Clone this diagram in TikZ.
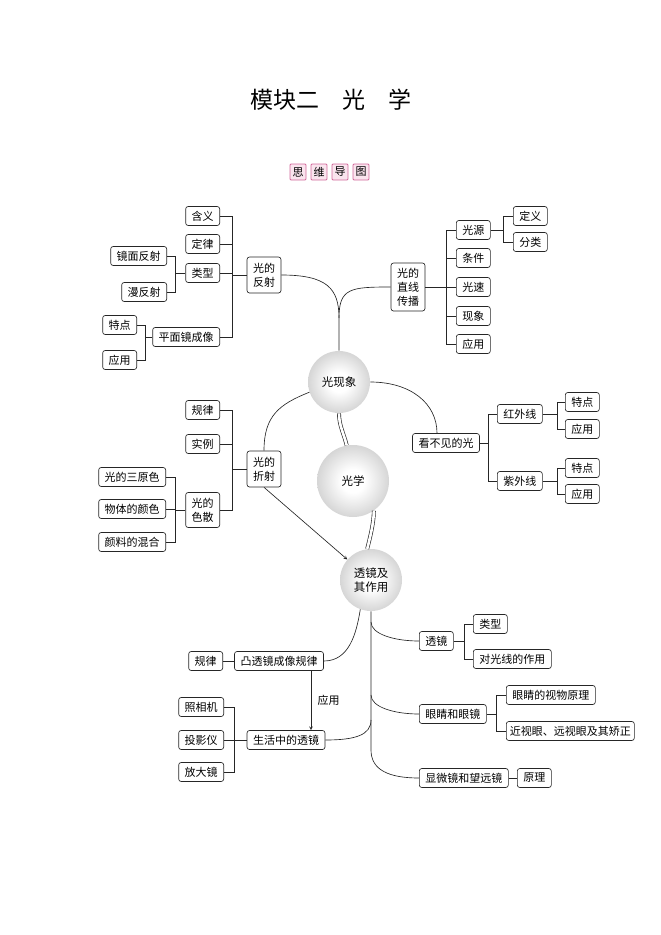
\documentclass[tikz,border=0pt]{standalone}
\usepackage{fontspec}
\setmainfont{Noto Sans CJK SC}
\usetikzlibrary{calc}

\pgfdeclareradialshading{sphere}{\pgfpoint{0bp}{0bp}}{color(0bp)=(white); color(8bp)=(white); color(50bp)=(black!40)}
\definecolor{tagline}{RGB}{210,105,155}
\definecolor{tagfill}{RGB}{250,228,238}

\tikzset{
  box/.style={draw, text=black, fill=white, rounded corners=2.5pt, inner xsep=6pt, inner ysep=2pt,
    minimum height=19pt, align=center, font=\fontsize{11}{14}\selectfont},
  ball/.style={circle, shading=sphere, text=black, align=center, inner sep=0pt,
    font=\fontsize{11.5}{14}\selectfont},
  tag/.style={draw=tagline, fill=tagfill, text=black, line width=.8pt, rounded corners=1pt,
    minimum size=16pt, inner sep=0pt, font=\fontsize{11}{12}\selectfont},
}

\begin{document}
\begin{tikzpicture}[x=1pt, y=-1pt, >=stealth, line width=.65pt, color=black!85]
\useasboundingbox (0,0) rectangle (661,935);

\node[text=black] (title) at (331,100) {\fontsize{23}{23}\selectfont 模块二\quad 光\quad 学};
\foreach \t [count=\i] in {思,维,导,图}
    \node[tag] (tag\i) at (277+21*\i,172) {\t};

% bracket columns
\coordinate (b1) at (232,0);
\coordinate (b2) at (175,0);
\coordinate (b3) at (145,0);
\coordinate (b4) at (446,0);
\coordinate (b5) at (503,0);
\coordinate (b6) at (488,0);
\coordinate (b7) at (557,0);
\coordinate (b8) at (234,0);
\coordinate (b9) at (464,0);
\coordinate (b10) at (496,0);

% centre
\node[ball, minimum size=62pt] (gxx) at (339,382) {光现象};
\node[ball, minimum size=72pt] (gx) at (353,481) {光学};
\node[ball, minimum size=62pt] (tjzy) at (371,580) {透镜及\\其作用};

\draw[double, double distance=2.6pt] (gxx.south) .. controls +(0,12) and +(-3,-12) .. (gx.100);
\draw[double, double distance=2.6pt] (gx.-55) .. controls +(0,12) and +(3,-12) .. (tjzy.97);

% reflection
\node[box, minimum height=36pt] (fs) at (264,275) {光的\\反射};
\foreach \n/\y/\t in {hy/216/含义, dl/244/定律, lx/273/类型, pmj/337/平面镜成像}
    \node[box, anchor=east] (\n) at (220,\y) {\t};
\node[box, anchor=east] (jm) at (167,256) {镜面反射};
\node[box, anchor=east] (mf) at (167,292) {漫反射};
\node[box, anchor=east] (td1) at (137,325) {特点};
\node[box, anchor=east] (yy1) at (137,360) {应用};

\draw (fs.west) -- (fs.west -| b1);
\draw (hy.east) -| (b1 |- pmj.east) -- (pmj.east);
\foreach \n in {dl,lx}
    \draw (\n.east) -- (\n.east -| b1);
\draw (lx.west) -- (lx.west -| b2);
\draw (jm.east) -| (b2 |- mf.east) -- (mf.east);
\draw (pmj.west) -- (pmj.west -| b3);
\draw (td1.east) -| (b3 |- yy1.east) -- (yy1.east);

% propagation
\node[box, minimum height=48pt] (zx) at (408,287) {光的\\直线\\传播};
\foreach \n/\y/\t in {gy/230/光源, tj/258/条件, gs/287/光速, xx/316/现象, yy2/344/应用}
    \node[box, anchor=west] (\n) at (456,\y) {\t};
\node[box, anchor=west] (dy) at (513,216) {定义};
\node[box, anchor=west] (fl) at (513,242) {分类};

\draw (zx.east) -- (zx.east -| b4);
\draw (gy.west) -| (b4 |- yy2.west) -- (yy2.west);
\foreach \n in {tj,gs,xx}
    \draw (\n.west) -- (\n.west -| b4);
\draw (gy.east) -- (gy.east -| b5);
\draw (dy.west) -| (b5 |- fl.west) -- (fl.west);

\coordinate (jn) at (339,318);
\draw (fs.east) .. controls +(45,0) and +(0,-30) .. (jn) -- (gxx.north);
\draw (zx.west) .. controls +(-40,0) and +(0,-30) .. (jn);

% refraction
\node[box, minimum height=36pt] (zs) at (264,469) {光的\\折射};
\node[box, anchor=east] (gl) at (220,410) {规律};
\node[box, anchor=east] (sl) at (220,444) {实例};
\node[box, anchor=east, minimum height=35pt] (ss) at (220,510) {光的\\色散};
\node[box, anchor=east] (sy) at (166,477) {光的三原色};
\node[box, anchor=east] (wt) at (166,509) {物体的颜色};
\node[box, anchor=east] (yl) at (166,542) {颜料的混合};

\draw (zs.west) -- (zs.west -| b1);
\draw (gl.east) -| (b1 |- ss.east) -- (ss.east);
\draw (sl.east) -- (sl.east -| b1);
\draw (ss.west) -- (ss.west -| b2);
\draw (sy.east) -| (b2 |- yl.east) -- (yl.east);
\draw (wt.east) -- (wt.east -| b2);

\draw (gxx.199) .. controls +(-30,12) and +(0,-35) .. (zs.north);
\draw[->] (zs.south) -- (tjzy);

% invisible light
\node[box] (kbj) at (446,443) {看不见的光};
\node[box, anchor=west] (hw) at (497,414) {红外线};
\node[box, anchor=west] (zw) at (497,481) {紫外线};
\node[box, anchor=west] (td2) at (565,402) {特点};
\node[box, anchor=west] (yy3) at (565,429) {应用};
\node[box, anchor=west] (td3) at (565,468) {特点};
\node[box, anchor=west] (yy4) at (565,494) {应用};

\draw (kbj.east) -- (kbj.east -| b6);
\draw (hw.west) -| (b6 |- zw.west) -- (zw.west);
\foreach \p/\a/\b in {hw/td2/yy3, zw/td3/yy4}
{
    \draw (\p.east) -- (\p.east -| b7);
    \draw (\a.west) -| (b7 |- \b.west) -- (\b.west);
}
\draw (gxx.east) .. controls +(40,0) and +(0,-30) .. ($(kbj.north)+(-9,0)$);

% lenses, left
\node[box] (ttj) at (279,661) {凸透镜成像规律};
\node[box, anchor=east] (gl2) at (223,661) {规律};
\node[box] (shz) at (286,740) {生活中的透镜};
\foreach \n/\y/\t in {zxj/707/照相机, tyy/740/投影仪, fdj/772/放大镜}
    \node[box, anchor=east] (\n) at (224,\y) {\t};

\draw (gl2) -- (ttj);
\draw (zxj.east) -| (b8 |- fdj.east) -- (fdj.east);
\draw (tyy.east) -- (shz.west);
\coordinate (ya) at (311,0);
\draw[->] (ttj.south -| ya) -- (shz.north -| ya) node[midway, right=3pt, text=black, font=\fontsize{11}{13}\selectfont] {应用};
\draw (ttj.east) .. controls +(25,0) and +(-4,25) .. (tjzy.250);

% lenses, right
\node[box, anchor=west] (tjn) at (419,641) {透镜};
\node[box, anchor=west] (lx2) at (473,624) {类型};
\node[box, anchor=west] (zy) at (473,659) {对光线的作用};
\node[box, anchor=west] (yj) at (419,714) {眼睛和眼镜};
\node[box, anchor=west] (sw) at (506,695) {眼睛的视物原理};
\node[box, anchor=west, inner xsep=3.5pt] (jz) at (506,731) {近视眼、远视眼及其矫正};
\node[box, anchor=west] (xwj) at (419,778) {显微镜和望远镜};
\node[box, anchor=west] (yl2) at (517,778) {原理};

\draw (tjn.east) -- (tjn.east -| b9);
\draw (lx2.west) -| (b9 |- zy.west) -- (zy.west);
\draw (yj.east) -- (yj.east -| b10);
\draw (sw.west) -| (b10 |- jz.west) -- (jz.west);
\draw (xwj) -- (yl2);

% trunk
\coordinate (t1) at (371,622);
\coordinate (t2) at (371,695);
\coordinate (t3) at (371,720);
\coordinate (t4) at (371,750);
\draw (tjzy.south) -- (t4) .. controls +(0,20) and +(-30,0) .. (xwj.west);
\draw (t1) .. controls +(0,12) and +(-25,0) .. (tjn.west);
\draw (t2) .. controls +(0,12) and +(-25,0) .. (yj.west);
\draw (shz.east) .. controls +(30,0) and +(0,15) .. (t3);
\end{tikzpicture}
\end{document}
